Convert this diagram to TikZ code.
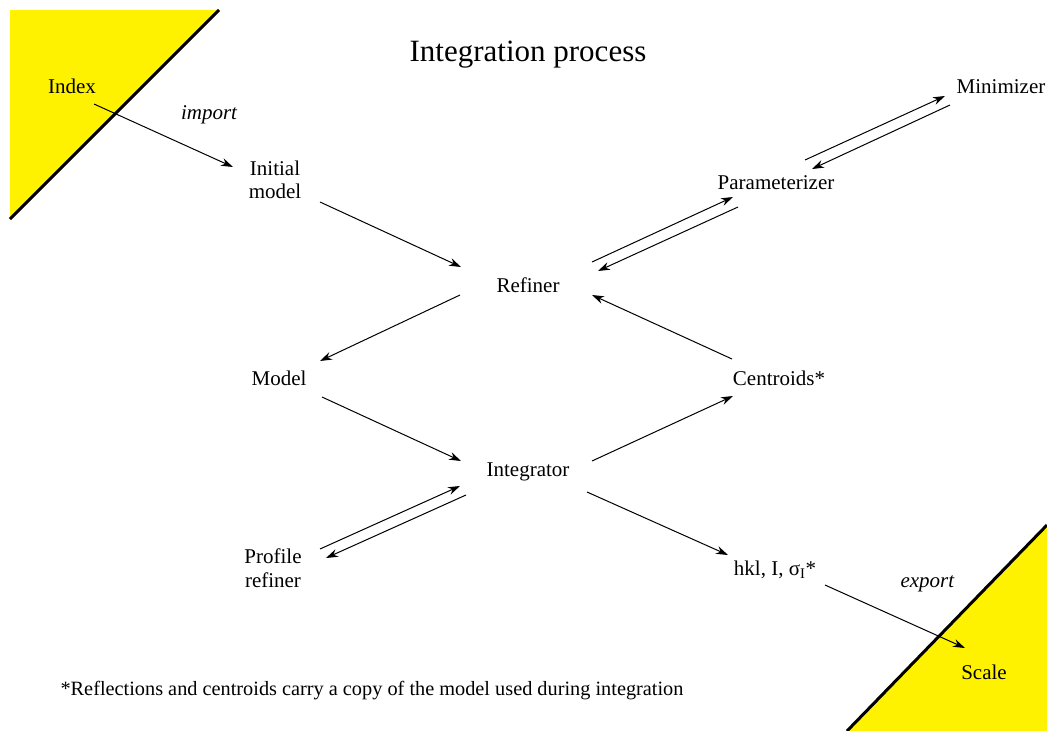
\documentclass[tikz,border=0pt]{standalone}
\usepackage{fontspec}
\setmainfont{Liberation Serif}
\usetikzlibrary{arrows.meta, positioning, calc}

\begin{document}
\begin{tikzpicture}[
    x=1pt, y=-1pt, on grid,
    % Node styles
    stage/.style={
        text centered, inner sep=0pt,
        font=\fontsize{21}{24}\selectfont,
        text height=12pt, text depth=0pt,
    },
    stack/.style={
        align=center, inner sep=0pt,
        font=\fontsize{21}{23.5}\selectfont,
    },
    heading/.style={
        stage, font=\fontsize{31}{36}\selectfont,
        text height=18pt,
    },
    note/.style={
        stage, font=\fontsize{20.3}{24}\selectfont,
    },
    tag/.style={
        stage, font=\fontsize{21}{24}\selectfont\itshape,
    },
    corner/.style={
        fill=yellow,
    },
    edge line/.style={
        draw=black, line width=3pt,
    },
    line/.style={
        draw=black, line width=1pt, -{Stealth[length=12pt, width=8pt]},
    },
]

\useasboundingbox (0,0) rectangle (1047,731);

% === Yellow corners ===
\fill[corner] (10,10) -- (219,10) -- (10,219) -- cycle;
\draw[edge line] (219,10) -- (10,219);
\fill[corner] (847,731) -- (1047,525) -- (1047,731) -- cycle;
\draw[edge line] (847,731) -- (1047,525);

% === Centre column ===
\node[stage] (refiner) at (528,286) {Refiner};
\node[stage] (integrator) [below=184pt of refiner] {Integrator};
\node[heading] (title) [above=234pt of refiner] {Integration process};

% === Left side ===
\node[stack] (initial) [above left=106pt and 253pt of refiner]    {Initial\\model};
\node[stage] (model)   [below left=93pt and 249pt of refiner]     {Model};
\node[stack] (profile) [below left=98pt and 255pt of integrator]  {Profile\\refiner};
\node[stage] (index)   [above left=93pt and 203pt of initial]     {Index};

% === Right side ===
\node[stage] (param)     [above right=103pt and 248pt of refiner]    {Parameterizer};
\node[stage] (minimizer) [above right=96pt and 225pt of param]       {Minimizer};
\node[stage] (centroids) [below right=93pt and 251pt of refiner]     {Centroids*};
\node[stage] (hkl)       [below right=99pt and 247pt of integrator]  {hkl, I, σ\textsubscript{I}*};
\node[stage] (scale)     [below right=104pt and 209pt of hkl]        {Scale};

% === Footnote ===
\node[note] (foot) [below right=121pt and 99pt of profile]
    {*Reflections and centroids carry a copy of the model used during integration};

% === Edges: import and export ===
\draw[line] ($(index)+(22,17)$) -- ($(initial)+(-42,-13)$)
    node[tag, midway, above right=16pt and 17pt] {import};
\draw[line] ($(hkl)+(50,16)$) -- ($(scale)+(-19,-25)$)
    node[tag, midway, above right=29pt and 5pt] {export};

% === Edges: refinement loop ===
\draw[line] ($(initial)+(45,22)$)    -- ($(refiner)+(-67,-19)$);
\draw[line] ($(refiner)+(-68,9)$)    -- ($(model)+(41,-18)$);
\draw[line] ($(model)+(43,18)$)      -- ($(integrator)+(-67,-9)$);
\draw[line] ($(integrator)+(64,-9)$) -- ($(centroids)+(-46,17)$);
\draw[line] ($(centroids)+(-47,-20)$) -- ($(refiner)+(64,9)$);
\draw[line] ($(integrator)+(59,22)$) -- ($(hkl)+(-47,-14)$);

% === Edges: two-way pairs ===
\draw[line] ($(refiner)+(64,-24)$)   -- ($(param)+(-43,14)$);
\draw[line] ($(param)+(-38,24)$)     -- ($(refiner)+(70,-15)$);
\draw[line] ($(param)+(29,-23)$)     -- ($(minimizer)+(-56,9)$);
\draw[line] ($(minimizer)+(-51,18)$) -- ($(param)+(36,-14)$);
\draw[line] ($(profile)+(47,-19)$)   -- ($(integrator)+(-68,16)$);
\draw[line] ($(integrator)+(-62,25)$) -- ($(profile)+(53,-10)$);

\end{tikzpicture}
\end{document}
